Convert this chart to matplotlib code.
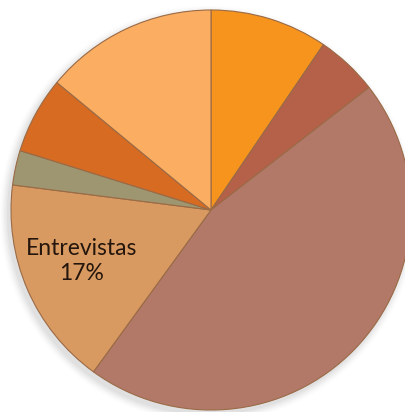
import numpy as np
import matplotlib
matplotlib.use("Agg")
import matplotlib.pyplot as plt
from matplotlib.patches import Circle

# Slice shares (percent), clockwise from 12 o'clock
labels = ["", "", "", "Entrevistas", "", "", ""]
values = [9.5, 5.0, 45.5, 17.0, 2.8, 6.2, 14.0]
colors = ["#F7941E", "#B5614A", "#B27969", "#D99A62", "#9D9670", "#D86B22", "#FBAE62"]

W, H = 406, 412
fig = plt.figure(figsize=(W / 100, H / 100), dpi=100)
ax = fig.add_axes([0, 0, 1, 1])

cx, cy, r = 211, H - 210, 200

# soft drop shadow under the pie
for i, a in enumerate(np.linspace(0.07, 0.015, 6)):
    ax.add_patch(Circle((cx - 3, cy - 4), r + 1 + i * 1.5, color="#808080",
                        alpha=a, lw=0, zorder=0))

wedges, _ = ax.pie(values, colors=colors, startangle=90, counterclock=False,
                   center=(cx, cy), radius=r, frame=True,
                   wedgeprops=dict(edgecolor="#9a6a45", linewidth=0.8))
ax.set_xlim(0, W)
ax.set_ylim(0, H)
ax.set_aspect("equal")
ax.axis("off")

# data label for the interview slice
ax.text(82, H - 261, f"{labels[3]}\n{values[3]:.0f}%", ha="center", va="center",
        fontsize=16.5, family="Lato", color="#24160c", linespacing=1.22, zorder=5)

fig.savefig("out.png", dpi=100)
